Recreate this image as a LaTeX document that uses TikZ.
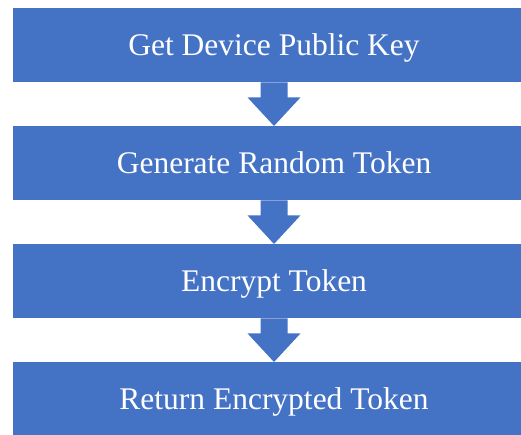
\documentclass[tikz,border=0pt]{standalone}
\usepackage{fontspec}
\setmainfont{Liberation Serif}
\usetikzlibrary{calc}
\definecolor{boxblue}{HTML}{4472C4}
\begin{document}
\begin{tikzpicture}[x=1pt,y=1pt,
  stepbox/.style={fill=boxblue,draw=none,minimum width=522pt,minimum height=74pt,inner sep=0pt,anchor=north,text=white,text height=27pt,text depth=7pt,font=\fontsize{31.5}{36}\selectfont},
  blockarrow/.style={fill=boxblue,draw=none}]
\useasboundingbox (0,0) rectangle (521,435);
\begin{scope}
\clip (0,0) rectangle (521,435);
\node[stepbox] (b1) at (274,427) {Get Device Public Key};
\node[stepbox] (b2) at (274,309) {Generate Random Token};
\node[stepbox] (b3) at (274,191) {Encrypt Token};
\node[stepbox] (b4) at (274,73) {Return Encrypted Token};
\foreach \a/\b in {b1/b2,b2/b3,b3/b4}{
  \fill[blockarrow] ($(\a.south)+(-13.5,0)$) -- ($(\a.south)+(13.5,0)$) -- ($(\a.south)+(13.5,-15)$) -- ($(\a.south)+(26.5,-15)$) -- (\b.north) -- ($(\a.south)+(-26.5,-15)$) -- ($(\a.south)+(-13.5,-15)$) -- cycle;
}
\end{scope}
\end{tikzpicture}
\end{document}
